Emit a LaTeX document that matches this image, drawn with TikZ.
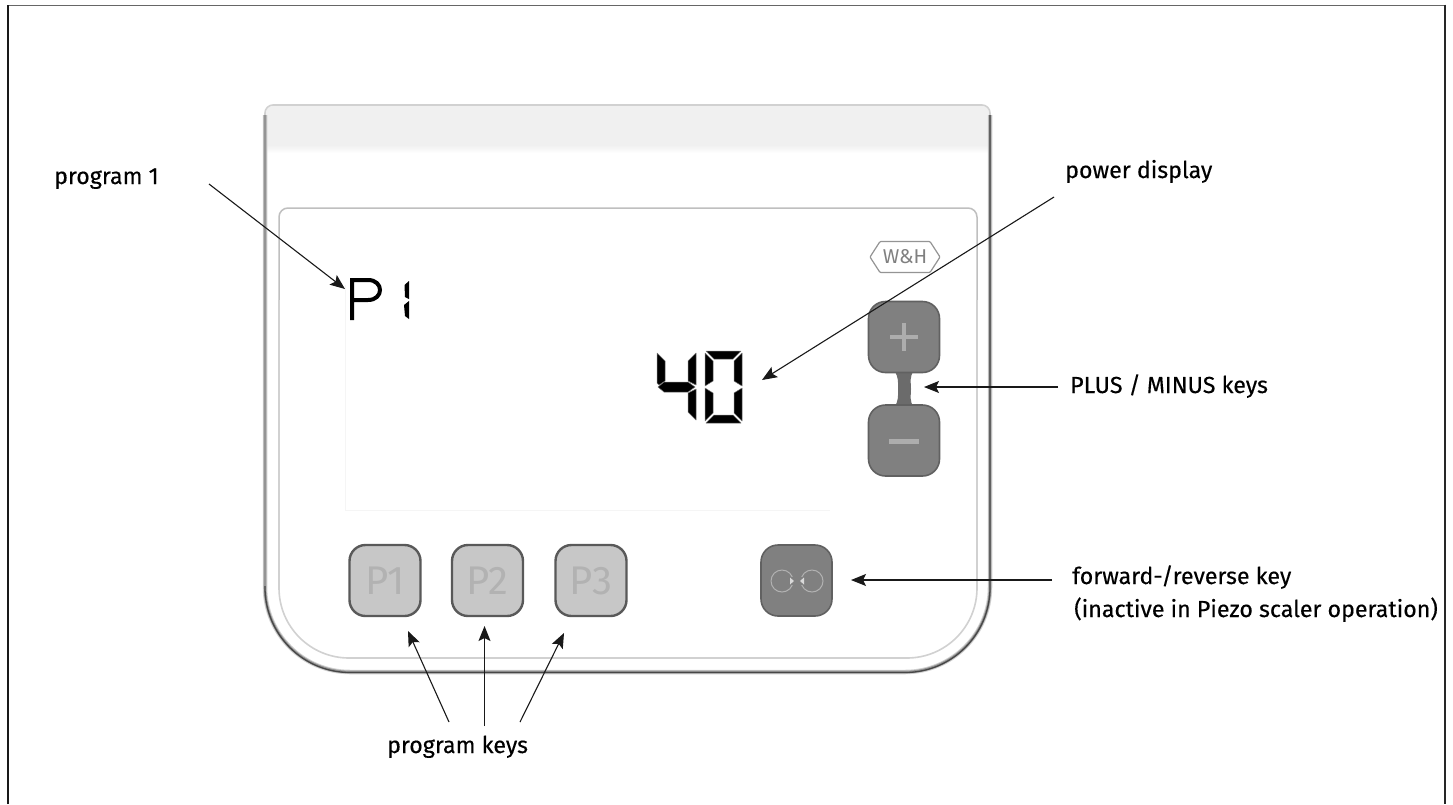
\documentclass[tikz,border=0pt]{standalone}
\usepackage{fontspec}
\setmainfont{Fira Sans}[FakeBold=0.3]
\newfontfamily\keyfont{Fira Sans}
\usetikzlibrary{arrows.meta,shadings}
\tikzset{
  lab/.style={anchor=base west,inner sep=0pt,font=\fontsize{23.2}{26}\selectfont,text=black},
  labm/.style={lab,align=left},
  ptr/.style={line width=1.1pt,draw=black!90,-{Stealth[length=15pt,width=12pt,inset=3pt]}},
  keylight/.style={draw=black!65,line width=2.4pt,fill=black!22,rounded corners=16pt,minimum width=71pt,minimum height=71pt,inner sep=0pt,text=black!30,font=\keyfont\fontsize{40}{40}\selectfont},
  keydark/.style={draw=black!62,line width=1.6pt,fill=black!50,rounded corners=17pt,minimum width=71pt,minimum height=71pt,inner sep=0pt},
  seg/.style={fill=black,draw=black!55,line width=0.5pt,line join=round},
  keysym/.style={draw=black!32,line cap=butt},
}
\begin{document}
\begin{tikzpicture}[x=1pt,y=-1pt]
\useasboundingbox (0,0) rectangle (1453,804);
\fill[white] (0,0) rectangle (1453,804);
% frame
\draw[black!60,line width=1pt] (8,5) -- (1445,5);
\draw[black!90,line width=1.3pt] (8,804) -- (8,4.5);
\draw[black!85,line width=1.1pt] (1445,4.5) -- (1445,804);
% top band of housing
\shade[top color=black!6,bottom color=white,middle color=black!6] (266,137) rectangle (989,153);
\fill[black!6,rounded corners=7pt] (266,145) -- (266,106) -- (989,106) -- (989,145) -- cycle;
% housing outline
\draw[black!18,line width=1.6pt,rounded corners=8pt] (265,300) -- (265,105) -- (990,105) -- (990,300);
\draw[black!18,line width=4.5pt,rounded corners=85pt] (265,115) -- (265,672) -- (990,672) -- (990,115);
\draw[black!42,line width=2.6pt,rounded corners=85pt] (265,115) -- (265,672) -- (990,672) -- (990,115);
\draw[black!72,line width=1.3pt,rounded corners=85pt] (265,586) -- (265,672.5) -- (990,672.5) -- (990,586);
\draw[black!62,line width=1.8pt] (990,586) -- (990,115);
% panel
\draw[black!25,line width=1.5pt,rounded corners=9pt] (279,300) -- (279,208) -- (977,208) -- (977,300);
\draw[black!18,line width=1.6pt,rounded corners=70pt] (279,300) -- (279,658) -- (977,658) -- (977,300);
% faint display field
\draw[black!4,line width=1pt] (345,285) -- (345,510) -- (830,510);
% logo
\draw[black!42,line width=1.2pt,line join=round,rounded corners=1pt] (870,257) -- (880,241.5) -- (930,241.5) -- (940,257) -- (930,272.5) -- (880,272.5) -- cycle;
\node[inner sep=0pt,font=\keyfont\fontsize{20}{20}\selectfont,text=black!50] (logo) at (905,257) {W\&H};
% keys
\fill[black!58] (894,370) .. controls (899,378) and (898,382) .. (898,389) .. controls (898,396) and (899,400) .. (894,408) -- (914,408) .. controls (909,400) and (911,396) .. (911,389) .. controls (911,382) and (909,378) .. (914,370) -- cycle;
\node[keydark] (plus) at (904,337) {};
\node[keydark] (minus) at (904,440.5) {};
\node[keydark] (fwd) at (796.5,580.5) {};
\node[keylight] (p1) at (385,580.5) {P1};
\node[keylight] (p2) at (487.5,580.5) {P2};
\node[keylight] (p3) at (591,580.5) {P3};
\draw[keysym,line width=3.6pt] (890,337) -- (918,337) (904,323) -- (904,351);
\draw[keysym,line width=5pt] (889,441) -- (919,441);
% forward / reverse symbol
\draw[black!30,line width=1pt] (782,581) circle[radius=11pt] (812,581) circle[radius=11pt];
\fill[black!50] (791,577) rectangle (803,585);
\fill[black!15] (794,581) -- (790,577.5) -- (790,584.5) -- cycle;
\fill[black!15] (800,581) -- (804,577.5) -- (804,584.5) -- cycle;
% P1 on the display
\draw[black,line width=4pt,line join=miter] (352,320) -- (352,280) -- (368,280) .. controls (384,280) and (384,300) .. (368,300) -- (352,300);
\fill[black] (409,281) -- (409,299) -- (405,297) -- (404.5,285) -- cycle;
\fill[black] (409,301) -- (409,319) -- (405,316) -- (404,305) -- cycle;
% 40
\path[seg] (657,353) -- (665,361) -- (665,381) -- (659,385) -- (657,383) -- cycle;
\path[seg] (658,387) -- (664,382) -- (688,382) -- (695,387) -- (688,392) -- (664,392) -- cycle;
\path[seg] (696,353) -- (688,361) -- (688,381) -- (696,385) -- cycle;
\path[seg] (696,389) -- (688,393) -- (688,412) -- (696,420) -- cycle;
\path[seg] (706,351) -- (741,351) -- (733,359) -- (714,359) -- cycle;
\path[seg] (706,423) -- (741,423) -- (733,415) -- (714,415) -- cycle;
\path[seg] (705,353) -- (713,361) -- (713,381) -- (705,386) -- cycle;
\path[seg] (705,388) -- (713,393) -- (713,413) -- (705,421) -- cycle;
\path[seg] (742,353) -- (734,361) -- (734,381) -- (742,386) -- cycle;
\path[seg] (742,388) -- (734,393) -- (734,413) -- (742,421) -- cycle;
% labels
\node[lab] (lprog) at (54,184) {program 1};
\node[lab] (lpower) at (1065,178) {power display};
\node[lab] (lplus) at (1070,393) {PLUS / MINUS keys};
\node[labm] (lfwd) at (1072,584) {forward-/reverse key};
\node[labm] (lfwdb) at (1074,617) {(inactive in Piezo scaler operation)};
\node[lab] (lkeys) at (387,753) {program keys};
% connector ends
\coordinate (s1) at (209,184); \coordinate (t1) at (345,289);
\coordinate (s2) at (1054,197); \coordinate (t2) at (762,380);
\coordinate (s3) at (1058,387); \coordinate (t3) at (924,387);
\coordinate (s4) at (1052,580); \coordinate (t4) at (851,580);
\coordinate (s5) at (449,722); \coordinate (t5) at (408,631);
\coordinate (s6) at (484.5,726); \coordinate (t6) at (484.5,626);
\coordinate (s7) at (520,722); \coordinate (t7) at (564,633);
\draw[ptr] (s1) -- (t1);
\draw[ptr] (s2) -- (t2);
\draw[ptr] (s3) -- (t3);
\draw[ptr] (s4) -- (t4);
\draw[ptr] (s5) -- (t5);
\draw[ptr] (s6) -- (t6);
\draw[ptr] (s7) -- (t7);
\end{tikzpicture}
\end{document}
